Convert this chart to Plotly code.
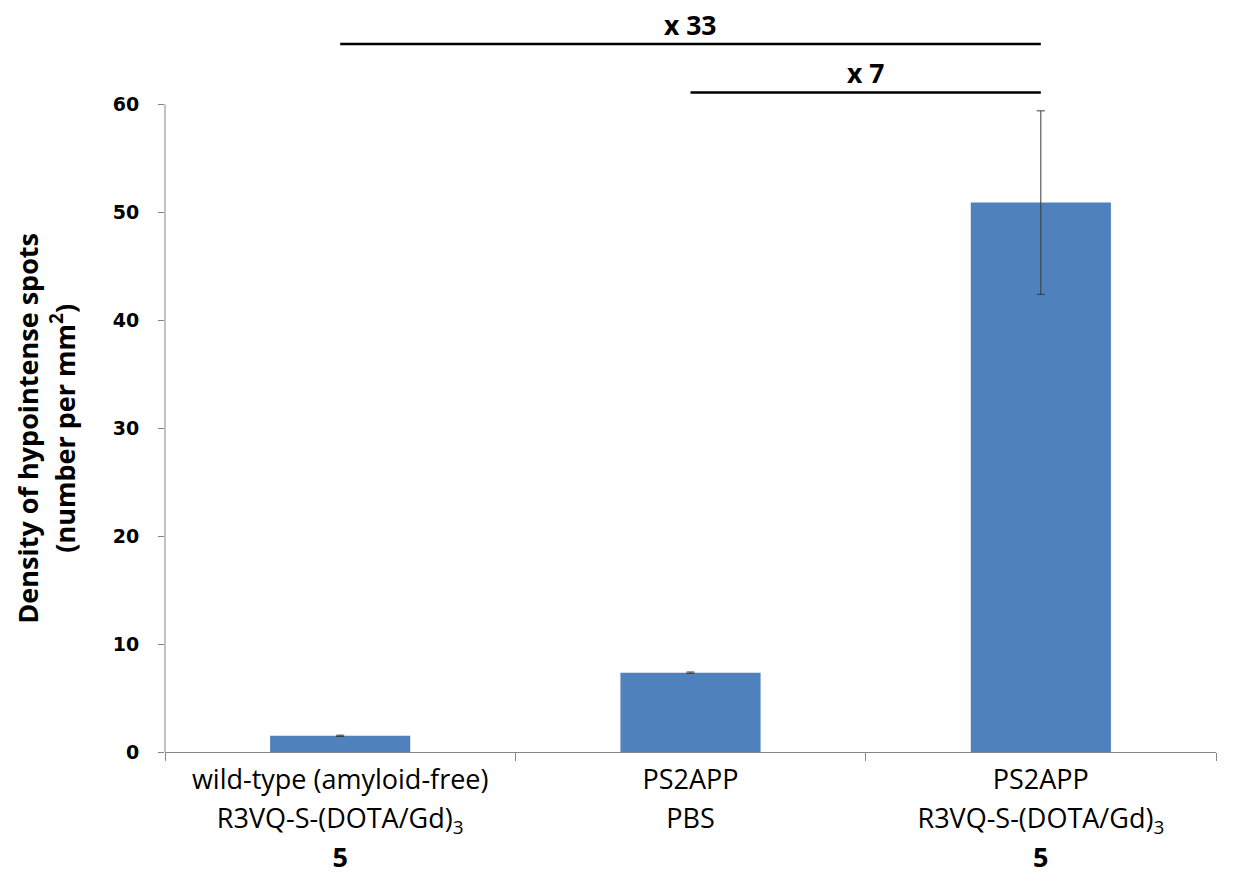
import plotly.graph_objects as go

categories = ["wt", "ps2app_pbs", "ps2app_r3vq"]
tick_lines = [
    ["wild-type (amyloid-free)", "R3VQ-S-(DOTA/Gd)<sub>3</sub>", "<b>5</b>"],
    ["PS2APP", "PBS", ""],
    ["PS2APP", "R3VQ-S-(DOTA/Gd)<sub>3</sub>", "<b>5</b>"],
]
values = [1.5, 7.35, 50.9]
errors = [0.06, 0.06, 8.5]
y_ticks = [0, 10, 20, 30, 40, 50, 60]
y_title = ["Density of hypointense spots", "(number per mm<sup>2</sup>)"]
brackets = [("wt", "ps2app_r3vq", 65.6, "x 33"), ("ps2app_pbs", "ps2app_r3vq", 61.1, "x 7")]

BAR = "#4F81BD"
AX = "#868686"
LAB = "Open Sans"

def ticktext(lines):
    return "<br>".join('<span style="font-size:27px">%s</span>' % (l if l else "&nbsp;") for l in lines)

fig = go.Figure()
fig.add_trace(go.Bar(
    x=categories, y=values, width=0.4, marker=dict(color=BAR, line=dict(width=0)),
    error_y=dict(type="data", array=errors, color="#3a3a3a", thickness=1, width=4),
))

for x0, x1, y, txt in brackets:
    fig.add_shape(type="line", xref="x", yref="y", x0=x0, x1=x1, y0=y, y1=y,
                  line=dict(color="black", width=2.5))
    fig.add_annotation(x=(categories.index(x0) + categories.index(x1)) / 2,
                       y=y, xref="x", yref="y", text=txt, showarrow=False,
                       yanchor="bottom", yshift=-1,
                       font=dict(family=LAB, size=26.5, color="black", weight="bold"))

# left axis line only up to 60
fig.add_shape(type="line", xref="paper", yref="y", x0=0, x1=0, y0=0, y1=60,
              line=dict(color=AX, width=1))

# y-axis title centred on the 0-60 axis
fig.add_annotation(
    x=0, xref="paper", y=(y_ticks[0] + y_ticks[-1]) / 2, yref="y",
    text="<br>".join('<span style="font-size:27px">%s</span>' % l for l in y_title),
    textangle=-90, showarrow=False, xanchor="right", xshift=-81,
    font=dict(family=LAB, size=28, color="black", weight="bold"),
)

fig.update_layout(
    width=1237, height=895,
    margin=dict(l=157, r=29, t=10, b=151),
    paper_bgcolor="white", plot_bgcolor="white",
    showlegend=False,
    xaxis=dict(
        type="category", tickmode="array", tickvals=categories,
        ticktext=[ticktext(t) for t in tick_lines],
        tickson="boundaries", ticks="outside", ticklen=8, tickcolor=AX, tickwidth=1,
        showline=True, linecolor=AX, linewidth=1, showgrid=False,
        tickfont=dict(family=LAB, size=30, color="black"),
        range=[-0.5, 2.5],
    ),
    yaxis=dict(
        range=[0, 68], tickmode="array", tickvals=y_ticks,
        ticks="outside", ticklen=6, tickcolor=AX, showline=False, showgrid=False,
        zeroline=False,
        tickfont=dict(family="DejaVu Sans", size=19, color="black", weight="bold"),
        ticklabelstandoff=15,
    ),
)

fig.write_html("out.html")
